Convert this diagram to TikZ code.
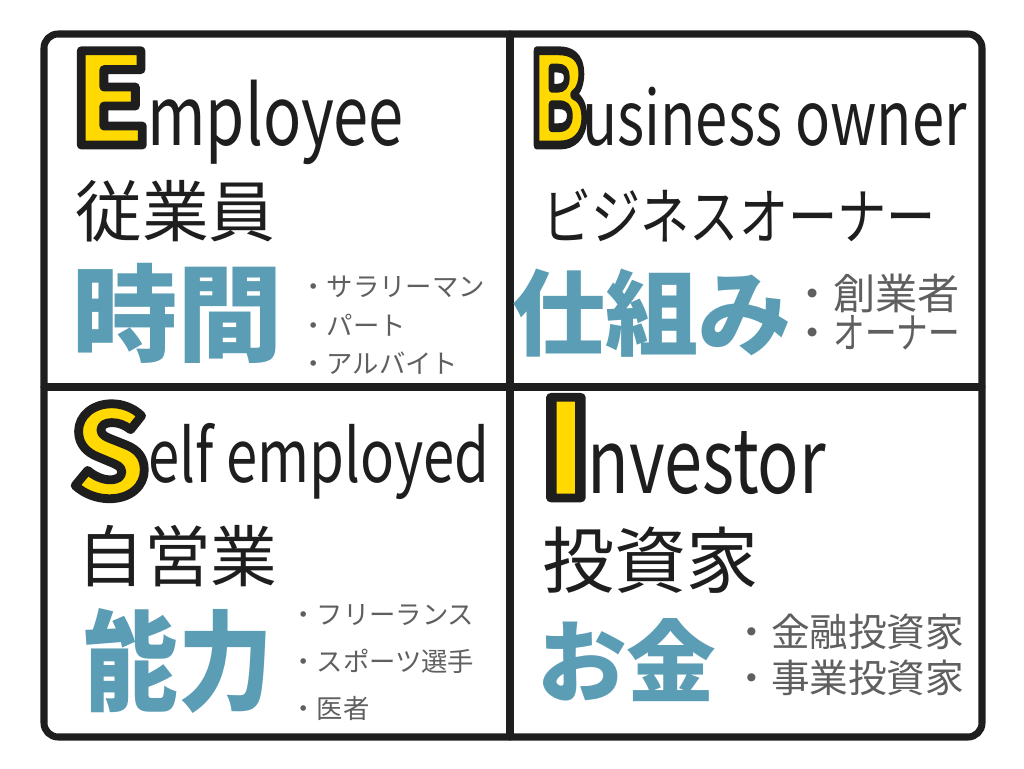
\documentclass[tikz,border=0pt]{standalone}
\usepackage{fontspec}
\setmainfont{Noto Sans CJK JP}
\definecolor{inkblack}{HTML}{1E1E1E}
\definecolor{marker}{HTML}{FFD900}
\definecolor{keyblue}{HTML}{5A9DB4}
\definecolor{notegray}{HTML}{5F5F5F}
% yellow letter with a black rim (fill + stroke text)
\newcommand{\rimmark}[1]{{\color{marker}\special{pdf:literal direct 0.118 0.118 0.118 RG 5 w 1 j 2 Tr}#1\special{pdf:literal direct 0 Tr}}}
\newcommand{\tall}[1]{\scalebox{1}[1.3]{#1}}
\tikzset{
  frame/.style={draw=inkblack,line width=4pt,line join=round,line cap=round},
  capletter/.style={inner sep=0pt,anchor=base west,font=\fontsize{72}{72}\selectfont\bfseries},
  word/.style={inner sep=0pt,anchor=base west,text=inkblack,font=\fontsize{36}{36}\selectfont},
  kanji/.style={inner sep=0pt,anchor=west,text=inkblack,font=\fontsize{38}{38}\selectfont},
  keyword/.style={inner sep=0pt,anchor=west,text=keyblue,font=\fontsize{58}{58}\selectfont\bfseries},
  note/.style={inner sep=0pt,anchor=west,text=notegray,font=\fontsize{15}{15}\selectfont},
  bignote/.style={note,font=\fontsize{22}{22}\selectfont},
}
\begin{document}
\begin{tikzpicture}[x=0.02cm,y=-0.02cm]
\useasboundingbox (0,0) rectangle (1024,768);
\fill[white] (0,0) rectangle (1024,768);
% frame
\draw[frame,rounded corners=8pt] (44,34) rectangle (982,737);
\draw[frame] (510,34) -- (510,737);
\draw[frame] (44,387) -- (982,387);
% Employee
\node[capletter] (Ecap) at (70,145) {\rimmark{E}};
\node[word] (Eword) at (147,145) {\tall{mployee}};
\node[kanji] (Ejp) at (75,211) {従業員};
\node[keyword,font=\fontsize{60}{60}\selectfont\bfseries] (Ekey) at (72,313) {時間};
\node[note] (Enote1) at (300,287) {・サラリーマン};
\node[note] (Enote2) at (300,325) {・パート};
\node[note] (Enote3) at (300,363) {・アルバイト};
% Business owner
\node[capletter] (Bcap) at (529,145) {\scalebox{.66}[1]{\rimmark{B}}};
\node[word,font=\fontsize{33}{33}\selectfont] (Bword) at (582,145) {\tall{usiness owner}};
\node[kanji,font=\fontsize{28}{28}\selectfont] (Bjp) at (542,215) {\scalebox{1}[1.25]{ビジネスオーナー}};
\node[keyword,font=\fontsize{53}{53}\selectfont\bfseries] (Bkey) at (512,313) {仕組み};
\node[bignote,font=\fontsize{24}{24}\selectfont] (Bnote1) at (791,293) {・創業者};
\node[bignote,font=\fontsize{24}{24}\selectfont] (Bnote2) at (791,333) {・\scalebox{.75}[1]{オーナー}};
% Self employed
\node[capletter,font=\fontsize{70}{70}\selectfont\bfseries] (Scap) at (70,497) {\rimmark{S}};
\node[word,font=\fontsize{32}{32}\selectfont] (Sword) at (148,482) {\tall{elf employed}};
\node[kanji] (Sjp) at (77,556) {自営業};
\node[keyword,font=\fontsize{54}{54}\selectfont\bfseries] (Skey) at (83,661) {\scalebox{1}[1.15]{能力}};
\node[note] (Snote1) at (290,615) {・フリーランス};
\node[note] (Snote2) at (290,661) {・スポーツ選手};
\node[note] (Snote3) at (290,708) {・医者};
% Investor
\node[capletter,font=\fontsize{77}{77}\selectfont\bfseries] (Icap) at (537,498) {\scalebox{1.2}[1]{\rimmark{I}}};
\node[word,font=\fontsize{39}{39}\selectfont] (Iword) at (587,493) {\tall{nvestor}};
\node[kanji,font=\fontsize{41}{41}\selectfont] (Ijp) at (542,560) {投資家};
\node[keyword,font=\fontsize{51}{51}\selectfont\bfseries] (Ikey) at (537,660) {お金};
\node[bignote] (Inote1) at (732,632) {・金融投資家};
\node[bignote] (Inote2) at (732,678) {・事業投資家};
\end{tikzpicture}
\end{document}
